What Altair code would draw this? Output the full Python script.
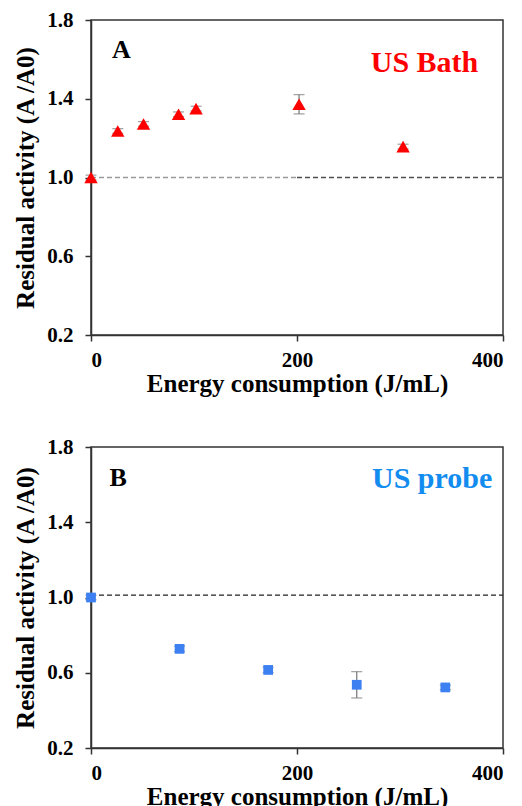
import altair as alt
import pandas as pd

# ---- data ----
bath_energy = [0, 26, 51, 85, 102, 202, 303]
bath_activity = [1.00, 1.236, 1.272, 1.321, 1.350, 1.372, 1.157]
bath_error = [0.012, 0.012, 0.012, 0.012, 0.012, 0.049, 0.012]

probe_energy = [0, 86, 172, 258, 344]
probe_activity = [1.00, 0.727, 0.615, 0.536, 0.522]
probe_error = [0.012, 0.014, 0.014, 0.070, 0.012]

x_ticks = [0, 200, 400]
y_ticks = [0.2, 0.6, 1.0, 1.4, 1.8]

x_title = "Energy consumption (J/mL)"
y_title = "Residual activity (A /A0)"

FONT = "Liberation Serif"


def panel(energy, activity, error, shape, color, size, letter, letter_xy,
          label, label_xy, label_color, ref_rows, height):
    df = pd.DataFrame({
        "energy": energy,
        "activity": activity,
        "lo": [a - e for a, e in zip(activity, error)],
        "hi": [a + e for a, e in zip(activity, error)],
    })
    xs = alt.Scale(domain=[0, 400], nice=False, zero=False)
    ys = alt.Scale(domain=[0.2, 1.8], nice=False, zero=False)
    xax = alt.Axis(values=x_ticks, title=x_title, format="d")
    yax = alt.Axis(values=y_ticks, title=y_title, format=".1f")

    def X(f):
        return alt.X(f, scale=xs, axis=xax, title=x_title)

    def Y(f):
        return alt.Y(f, scale=ys, axis=yax, title=y_title)

    ref = pd.DataFrame(ref_rows, columns=["x0", "x1", "y", "c"])
    ref_layer = alt.Chart(ref).mark_rule(strokeDash=[5, 3], strokeWidth=1.3).encode(
        x=X("x0:Q"), x2="x1:Q", y=Y("y:Q"),
        color=alt.Color("c:N", scale=None),
    )

    err_rule = alt.Chart(df).mark_rule(color="#7f7f7f", strokeWidth=1.3).encode(
        x=X("energy:Q"), y=Y("lo:Q"), y2="hi:Q",
    )
    cap_lo = alt.Chart(df).mark_tick(color="#7f7f7f", orient="horizontal",
                                     size=11, thickness=1.3).encode(
        x=X("energy:Q"), y=Y("lo:Q"),
    )
    cap_hi = alt.Chart(df).mark_tick(color="#7f7f7f", orient="horizontal",
                                     size=11, thickness=1.3).encode(
        x=X("energy:Q"), y=Y("hi:Q"),
    )

    points = alt.Chart(df).mark_point(shape=shape, filled=True, opacity=1,
                                      color=color, size=size).encode(
        x=X("energy:Q"), y=Y("activity:Q"),
    )

    letter_df = pd.DataFrame({"t": [letter], "x": [letter_xy[0]], "y": [letter_xy[1]]})
    letter_layer = alt.Chart(letter_df).mark_text(
        font=FONT, fontWeight="bold", fontSize=26, color="black",
        align="left", baseline="alphabetic").encode(
        x=X("x:Q"), y=Y("y:Q"), text="t:N",
    )

    label_df = pd.DataFrame({"t": [label], "x": [label_xy[0]], "y": [label_xy[1]]})
    label_layer = alt.Chart(label_df).mark_text(
        font=FONT, fontWeight="bold", fontSize=30, color=label_color,
        align="right", baseline="alphabetic").encode(
        x=X("x:Q"), y=Y("y:Q"), text="t:N",
    )

    return alt.layer(ref_layer, err_rule, cap_lo, cap_hi, points,
                     letter_layer, label_layer).properties(width=412, height=height)


panel_a = panel(bath_energy, bath_activity, bath_error, "triangle-up", "#ff0000", 180,
                "A", (20.4, 1.605), "US Bath", (376, 1.537), "#ff0000",
                [(0, 200, 1.0, "#9a9a9a"), (200, 400, 1.0, "#505050")], 315)

panel_b = panel(probe_energy, probe_activity, probe_error, "square", "#3d80f2", 95,
                "B", (18, 1.593), "US probe", (389.6, 1.582), "#138cf0",
                [(0, 400, 1.013, "#222222")], 301)

chart = alt.vconcat(panel_a, panel_b, spacing=38).properties(
    padding={"left": 4, "top": 0, "right": 0, "bottom": 0}
).configure_axis(
    labelFont=FONT, labelFontSize=21, labelFontWeight="bold", labelColor="black",
    titleFont=FONT, titleFontSize=25, titleFontWeight="bold", titleColor="black",
    tickSize=6, tickColor="#333333", tickWidth=1.5,
    domainColor="#333333", domainWidth=1.5, grid=False,
).configure_axisY(
    labelPadding=12, titlePadding=8,
).configure_axisX(
    labelPadding=8, titlePadding=1,
).configure_view(
    stroke="#333333", strokeWidth=1.5,
)

chart.save("out.html", embed_options={"renderer": "svg", "actions": False})
